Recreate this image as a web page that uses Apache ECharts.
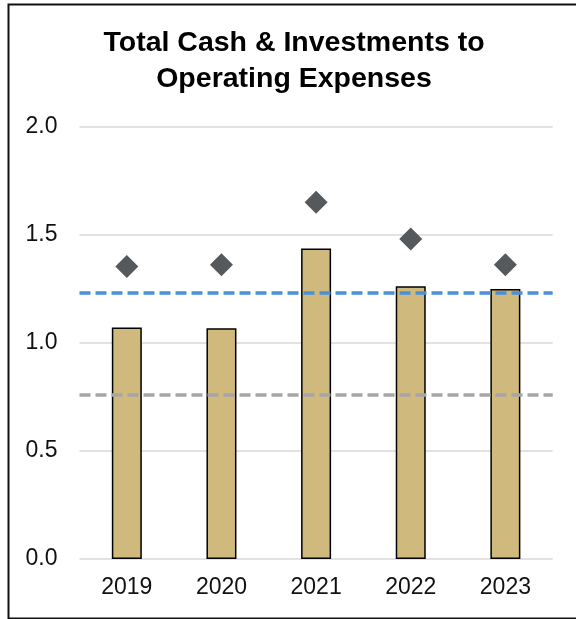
<!DOCTYPE html>
<html>
<head>
<meta charset="utf-8">
<script src="https://cdn.jsdelivr.net/npm/echarts@6/dist/echarts.min.js"></script>
<style>
  html, body { margin: 0; padding: 0; background: #fff; }
  #chart { width: 576px; height: 619px; }
</style>
</head>
<body>
<div id="chart"></div>
<script>
// Fiscal years on the category axis
const years = ['2019', '2020', '2021', '2022', '2023'];
// Ratio of total cash & investments to operating expenses (bars)
const ratioValues = [1.071, 1.068, 1.437, 1.262, 1.249];
// Comparison ratio shown as diamonds
const peerValues = [1.353, 1.361, 1.651, 1.481, 1.361];
// Reference levels drawn as dashed horizontal lines
const upperRefLevel = 1.23;
const lowerRefLevel = 0.755;
// Value-axis ticks
const yTicks = [0, 0.5, 1.0, 1.5, 2.0];

const FONT = '"Liberation Sans", Arial, Helvetica, sans-serif';

const chart = echarts.init(document.getElementById('chart'), null, { renderer: 'canvas' });

chart.setOption({
  backgroundColor: '#ffffff',
  animation: false,
  title: {
    text: 'Total Cash & Investments to\nOperating Expenses',
    left: 294,
    top: 25,
    padding: 0,
    textAlign: 'center',
    textStyle: {
      fontFamily: FONT,
      fontWeight: 'bold',
      fontSize: 28.5,
      lineHeight: 36,
      color: '#000'
    }
  },
  graphic: [{
    type: 'rect',
    left: 6,
    top: 2,
    shape: { x: 0, y: 0, width: 580, height: 614 },
    style: { fill: 'none', stroke: '#111', lineWidth: 2 },
    silent: true,
    z: 100
  }],
  grid: {
    left: 79.5,
    right: 23.3,
    top: 126.7,
    bottom: 60,
    containLabel: false
  },
  xAxis: {
    type: 'category',
    data: years,
    axisLine: { show: false },
    axisTick: { show: false },
    axisLabel: {
      fontFamily: FONT,
      fontSize: 23,
      color: '#111',
      margin: 17
    }
  },
  yAxis: {
    type: 'value',
    min: yTicks[0],
    max: yTicks[yTicks.length - 1],
    interval: 0.5,
    axisLine: { show: false },
    axisTick: { show: false },
    axisLabel: {
      fontFamily: FONT,
      fontSize: 23,
      color: '#111',
      margin: 22,
      formatter: v => v.toFixed(1)
    },
    splitLine: { lineStyle: { color: '#d9d9d9', width: 1.5 } }
  },
  series: [
    {
      name: 'Cash & Investments to Operating Expenses',
      type: 'bar',
      data: ratioValues,
      barWidth: 30,
      itemStyle: {
        color: '#cfb97d',
        borderColor: '#000',
        borderWidth: 1.5
      },
      z: 2,
      markLine: {
        silent: true,
        symbol: ['none', 'none'],
        label: { show: false },
        emphasis: { disabled: true },
        data: [
          { yAxis: upperRefLevel, lineStyle: { color: '#4a8fd9', width: 3.5, type: [11, 5] } },
          { yAxis: lowerRefLevel, lineStyle: { color: '#a6a6a6', width: 3.5, type: [11, 5] } }
        ],
        z: 3
      }
    },
    {
      name: 'Comparison',
      type: 'scatter',
      data: peerValues,
      symbol: 'diamond',
      symbolSize: [23, 23],
      itemStyle: { color: '#56595c', opacity: 1 },
      z: 4
    }
  ]
});
</script>
</body>
</html>
